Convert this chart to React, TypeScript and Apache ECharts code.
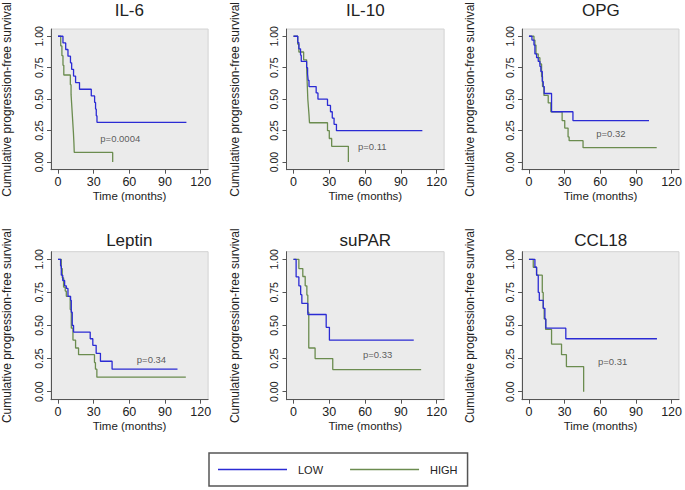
import React, { useEffect, useRef } from "react";
import * as echarts from "echarts";

// ---------- data ----------
const panelTitles = ["IL-6", "IL-10", "OPG", "Leptin", "suPAR", "CCL18"];
const pValueLabels = ["p=0.0004", "p=0.11", "p=0.32", "p=0.34", "p=0.33", "p=0.31"];
const xTicks = [0, 30, 60, 90, 120];
const yTicks = [0, 0.25, 0.5, 0.75, 1];
const legendNames = ["LOW", "HIGH"];

// IL-6
const il6LowT = [0, 4.2, 6.5, 8.4, 10.5, 11.5, 13.1, 14.8, 18.1, 28, 30.8, 31.6, 32.2, 32.8, 108];
const il6LowS = [1, 0.947, 0.895, 0.842, 0.789, 0.737, 0.684, 0.632, 0.579, 0.526, 0.474, 0.421, 0.368, 0.316, 0.316];
const il6HighT = [0, 2.3, 3.3, 4.2, 4.9, 10.4, 11, 11.5, 12, 12.5, 13, 13.4, 13.7, 46];
const il6HighS = [1, 0.923, 0.846, 0.769, 0.692, 0.615, 0.538, 0.462, 0.385, 0.308, 0.231, 0.154, 0.077, 0];

// IL-10
const il10LowT = [0, 3.6, 4.5, 5.9, 6.5, 11, 11.8, 12.3, 13, 19, 20.5, 28.5, 31, 32.5, 34, 36, 108];
const il10LowS = [1, 0.95, 0.9, 0.85, 0.8, 0.75, 0.7, 0.65, 0.6, 0.55, 0.5, 0.45, 0.4, 0.35, 0.3, 0.25, 0.25];
const il10HighT = [0, 3.5, 4.5, 8.5, 11, 11.5, 12, 12.5, 13, 13.4, 28.5, 30, 32, 46];
const il10HighS = [1, 0.9375, 0.875, 0.8125, 0.75, 0.625, 0.5, 0.4375, 0.375, 0.3125, 0.25, 0.1875, 0.125, 0];

// OPG
const opgLowT = [0, 2.5, 4.2, 5, 6.4, 7.8, 9.2, 10, 11.2, 12, 12.8, 19, 37, 101];
const opgLowS = [1, 0.97, 0.93, 0.86, 0.83, 0.8, 0.76, 0.72, 0.64, 0.6, 0.545, 0.4, 0.33, 0.33];
const opgHighT = [0, 4.2, 5, 5.9, 7.8, 9.2, 10.6, 11.4, 12.6, 16.2, 18.4, 27.9, 30.1, 32.9, 33.8, 45.5, 107.5];
const opgHighS = [1, 0.97, 0.93, 0.86, 0.83, 0.78, 0.68, 0.6, 0.53, 0.47, 0.4, 0.33, 0.27, 0.2, 0.17, 0.115, 0.115];

// Leptin
const leptinLowT = [0, 2.2, 2.8, 4, 5.6, 7, 8.4, 10.6, 11.2, 12, 13.1, 27.1, 29.3, 32.1, 35.7, 45.5, 100.5];
const leptinLowS = [1, 0.95, 0.88, 0.84, 0.8, 0.78, 0.72, 0.69, 0.6, 0.5, 0.45, 0.4, 0.35, 0.29, 0.23, 0.17, 0.17];
const leptinHighT = [0, 2.8, 3.6, 4.7, 6.1, 7, 10.3, 11.2, 12.6, 14.8, 17.3, 30.7, 31.5, 32.7, 107.5];
const leptinHighS = [1, 0.93, 0.86, 0.79, 0.76, 0.72, 0.62, 0.48, 0.39, 0.33, 0.28, 0.22, 0.17, 0.11, 0.11];

// suPAR
const suparLowT = [0, 2.2, 4.5, 6, 7, 12, 27.4, 30.1, 100.8];
const suparLowS = [1, 0.867, 0.8, 0.733, 0.667, 0.583, 0.486, 0.389, 0.389];
const suparHighT = [0, 4.5, 7.8, 9.8, 11.2, 12, 12.8, 18.1, 32.9, 107];
const suparHighS = [1, 0.93, 0.87, 0.8, 0.73, 0.6, 0.33, 0.25, 0.167, 0.167];

// CCL18
const ccl18LowT = [0, 5, 6.4, 7.8, 8.7, 12, 13.4, 14.2, 31, 107.7];
const ccl18LowS = [1, 0.94, 0.88, 0.75, 0.69, 0.63, 0.55, 0.48, 0.4, 0.4];
const ccl18HighT = [0, 3.6, 6.4, 11.2, 12, 12.8, 14, 19, 27.4, 31.5, 46];
const ccl18HighS = [1, 0.94, 0.88, 0.75, 0.63, 0.55, 0.47, 0.36, 0.28, 0.19, 0];

// anchor of the p-value text, in data units (months, survival)
const pLabelAnchors = [
  [35.6, 0.19],
  [54, 0.126],
  [56.6, 0.23],
  [66.3, 0.24],
  [58.2, 0.28],
  [58, 0.227],
];

const panelCurves = [
  [il6LowT, il6LowS, il6HighT, il6HighS],
  [il10LowT, il10LowS, il10HighT, il10HighS],
  [opgLowT, opgLowS, opgHighT, opgHighS],
  [leptinLowT, leptinLowS, leptinHighT, leptinHighS],
  [suparLowT, suparLowS, suparHighT, suparHighS],
  [ccl18LowT, ccl18LowS, ccl18HighT, ccl18HighS],
];

// ---------- layout ----------
const FONT = "'Liberation Sans', Arial, Helvetica, sans-serif";
const COL_X0 = [57.5, 293.5, 529];
const ROW_TOP = [21.7, 251.7];
const PX_PER_MONTH = 1.193;
const GRID_W = 157.6;
const GRID_H = 148;
const X_MIN = -7 / PX_PER_MONTH;
const X_MAX = X_MIN + GRID_W / PX_PER_MONTH;
const Y_MAX = 1 + 7.6 / 132.4;
const Y_MIN = Y_MAX - GRID_H / 132.4;
const BLUE = "#2b2bd4";
const GREEN = "#6b8c4f";
const AXIS = "#555555";

function steps(t: number[], s: number[]): number[][] {
  const pts: number[][] = [[t[0], s[0]]];
  for (let i = 1; i < t.length; i++) {
    pts.push([t[i], s[i - 1]]);
    if (s[i] !== s[i - 1]) pts.push([t[i], s[i]]);
  }
  return pts;
}

function buildOption() {
  const grid: any[] = [];
  const xAxis: any[] = [];
  const yAxis: any[] = [];
  const title: any[] = [];
  const series: any[] = [];

  panelTitles.forEach((name, i) => {
    const col = i % 3;
    const row = Math.floor(i / 3);
    const left = COL_X0[col] - 7;
    const top = ROW_TOP[row];
    grid.push({
      left,
      top,
      width: GRID_W,
      height: GRID_H,
      show: true,
      backgroundColor: "#ebebeb",
      borderColor: "#d2d2d2",
      borderWidth: 1,
    });
    title.push({
      text: name,
      left: left + GRID_W / 2,
      top: top - 20,
      textAlign: "center",
      padding: 0,
      textStyle: { fontSize: 17, fontWeight: "normal", color: "#222", fontFamily: FONT },
    });
    xAxis.push({
      gridIndex: i,
      type: "value",
      min: X_MIN,
      max: X_MAX,
      axisLine: { show: true, onZero: false, lineStyle: { color: AXIS, width: 1 } },
      axisTick: { show: true, length: 4, customValues: xTicks, lineStyle: { color: AXIS } },
      axisLabel: { customValues: xTicks, margin: 6, fontSize: 12.5, color: "#222", fontFamily: FONT },
      splitLine: { show: false },
      name: "Time (months)",
      nameLocation: "middle",
      nameGap: 20,
      nameTextStyle: { fontSize: 11.5, color: "#222", fontFamily: FONT },
    });
    yAxis.push({
      gridIndex: i,
      type: "value",
      min: Y_MIN,
      max: Y_MAX,
      axisLine: { show: true, onZero: false, lineStyle: { color: AXIS, width: 1 } },
      axisTick: { show: true, length: 4, customValues: yTicks, lineStyle: { color: AXIS } },
      axisLabel: {
        customValues: yTicks,
        rotate: 90,
        margin: 7,
        fontSize: 10.5,
        color: "#222",
        fontFamily: FONT,
        formatter: (v: number) => v.toFixed(2),
      },
      splitLine: { show: false },
      name: "Cumulative progression-free survival",
      nameLocation: "middle",
      nameRotate: 90,
      nameGap: col === 0 ? 38 : 46,
      nameTextStyle: { fontSize: 12, color: "#222", fontFamily: FONT },
    });
    const [lt, ls, ht, hs] = panelCurves[i];
    series.push({
      name: legendNames[0],
      type: "line",
      xAxisIndex: i,
      yAxisIndex: i,
      data: steps(lt, ls),
      symbol: "none",
      lineStyle: { color: BLUE, width: 1.3 },
      itemStyle: { color: BLUE },
      z: 3,
    });
    series.push({
      name: legendNames[1],
      type: "line",
      xAxisIndex: i,
      yAxisIndex: i,
      data: steps(ht, hs),
      symbol: "none",
      lineStyle: { color: GREEN, width: 1.3 },
      itemStyle: { color: GREEN },
      z: 2,
    });
    series.push({
      name: "p" + i,
      type: "scatter",
      xAxisIndex: i,
      yAxisIndex: i,
      data: [pLabelAnchors[i]],
      symbolSize: 0,
      silent: true,
      label: {
        show: true,
        position: "right",
        distance: 0,
        formatter: pValueLabels[i],
        fontSize: 9.5,
        color: "#333",
        fontFamily: FONT,
      },
    });
  });

  return {
    animation: false,
    backgroundColor: "#ffffff",
    textStyle: { fontFamily: FONT },
    title,
    grid,
    xAxis,
    yAxis,
    legend: {
      data: legendNames,
      left: 209,
      top: 453,
      padding: [11, 10, 11, 9],
      icon: "rect",
      itemWidth: 69,
      itemHeight: 1.5,
      itemGap: 27,
      borderColor: "#555",
      borderWidth: 1.5,
      textStyle: { fontSize: 11, color: "#222", fontFamily: FONT, padding: [0, 0, 0, 6] },
    },
    series,
  };
}

export default function App() {
  const ref = useRef<HTMLDivElement>(null);
  useEffect(() => {
    if (!ref.current) return;
    const chart = echarts.init(ref.current, undefined, { renderer: "svg" });
    chart.setOption(buildOption() as any);
    return () => chart.dispose();
  }, []);
  return (
    <div
      ref={ref}
      style={{ position: "fixed", left: 0, top: 0, width: 685, height: 490, background: "#fff" }}
    />
  );
}
